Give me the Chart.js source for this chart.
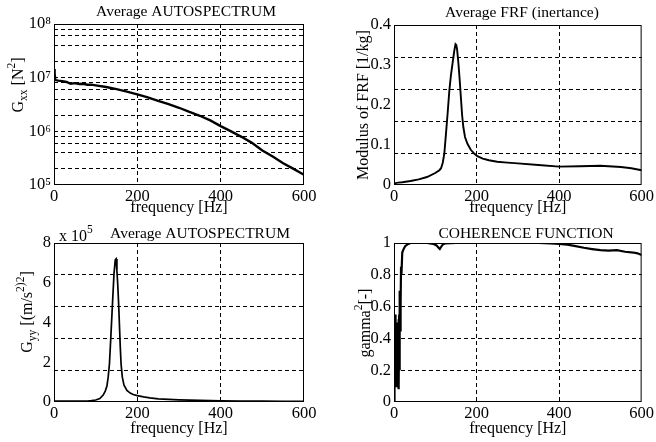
<!DOCTYPE html>
<html>
<head>
<meta charset="utf-8">
<script src="https://cdn.jsdelivr.net/npm/chart.js@4"></script>
<style>
  html, body { margin: 0; padding: 0; background: #fff; }
  #wrap { position: relative; width: 656px; height: 442px; overflow: hidden; }
  canvas { position: absolute; }
</style>
</head>
<body>
<div id="wrap">
  <canvas id="gxx" width="328" height="221" style="left:0;top:0"></canvas>
  <canvas id="frf" width="328" height="221" style="left:328px;top:0"></canvas>
  <canvas id="gyy" width="328" height="221" style="left:0;top:221px"></canvas>
  <canvas id="coh" width="328" height="221" style="left:328px;top:221px"></canvas>
</div>
<script>
// --- data ---
const freqTicks = [0, 200, 400, 600];
const freqGrid = [200, 400];

// input force autospectrum G_xx [N^2], log axis
const gxxFreq = [0, 1, 2, 3, 5, 10, 20, 30, 40, 50, 60, 70, 80, 90, 100, 125, 150, 175, 200, 225, 250, 275, 300, 325, 350, 375, 400, 425, 450, 475, 500, 525, 550, 575, 600];
const gxxVals = [1.45e7, 9.2e6, 1.2e7, 9.0e6, 9.0e6, 8.8e6, 8.6e6, 8.3e6, 7.7e6, 7.9e6, 7.6e6, 7.7e6, 7.4e6, 7.4e6, 7.2e6, 6.7e6, 6.1e6, 5.5e6, 4.9e6, 4.3e6, 3.7e6, 3.2e6, 2.75e6, 2.3e6, 1.95e6, 1.6e6, 1.25e6, 1.0e6, 7.9e5, 6.1e5, 4.4e5, 3.4e5, 2.55e5, 2.0e5, 1.55e5];
const gxxTickVals = [1e5, 1e6, 1e7, 1e8];
const gxxTickText = ['10\u2075', '10\u2076', '10\u2077', '10\u2078'];
const gxxGrid = [2e5, 4e5, 6e5, 8e5, 1e6, 2e6, 4e6, 6e6, 8e6, 1e7, 2e7, 4e7, 6e7, 8e7];

// FRF modulus (inertance) [1/kg]
const frfFreq = [0, 10, 20, 40, 60, 80, 100, 110, 114, 118, 122, 126, 130, 134, 138, 142, 146, 149, 151, 153, 156, 159, 162, 165, 168, 172, 178, 186, 195, 202, 215, 230, 250, 275, 300, 350, 400, 450, 500, 550, 575, 600];
const frfVals = [0.004, 0.006, 0.007, 0.01, 0.014, 0.02, 0.03, 0.037, 0.042, 0.055, 0.079, 0.129, 0.18, 0.235, 0.275, 0.305, 0.335, 0.352, 0.35, 0.338, 0.305, 0.265, 0.22, 0.175, 0.145, 0.12, 0.103, 0.088, 0.078, 0.072, 0.066, 0.062, 0.058, 0.056, 0.054, 0.05, 0.046, 0.047, 0.048, 0.045, 0.042, 0.037];
const frfTicks = [0, 0.1, 0.2, 0.3, 0.4];
const frfTickText = ['0', '0.1', '0.2', '0.3', '0.4'];
const frfGrid = [0.08, 0.16, 0.24, 0.32];

// response autospectrum G_yy, in units of 1e5
const gyyFreq = [0, 20, 40, 60, 80, 90, 100, 110, 118, 123, 127, 130, 133, 136, 140, 144, 147, 149, 151, 153, 155, 157, 159, 161, 164, 168, 175, 183, 190, 200, 215, 230, 250, 275, 300, 350, 400, 450, 500, 550, 600];
const gyyVals = [0.04, 0.04, 0.04, 0.05, 0.05, 0.07, 0.1, 0.17, 0.35, 0.55, 0.8, 1.25, 1.9, 3.1, 4.8, 6.45, 7.15, 7.2, 6.6, 5.9, 5.0, 3.9, 2.8, 1.9, 1.25, 0.85, 0.58, 0.45, 0.38, 0.32, 0.26, 0.21, 0.16, 0.13, 0.11, 0.08, 0.06, 0.05, 0.04, 0.03, 0.03];
const gyyTicks = [0, 2, 4, 6, 8];
const gyyTickText = ['0', '2', '4', '6', '8'];
const gyyGrid = [1.6, 3.2, 4.8, 6.4];

// coherence gamma^2
const cohFreq = [0, 0.5, 1, 1.5, 2, 2.5, 3, 3.5, 4, 4.5, 5, 5.5, 6, 6.5, 7, 7.5, 8, 8.5, 9, 9.5, 10, 10.5, 11, 11.5, 12, 12.5, 13, 13.5, 14, 14.5, 15, 16, 17, 18, 20, 23, 27, 32, 40, 60, 80, 95, 103, 108, 111, 114, 118, 125, 150, 200, 250, 300, 350, 380, 400, 420, 440, 460, 480, 500, 520, 540, 560, 580, 590, 600];
const cohVals = [0.0, 0.45, 0.1, 0.52, 0.15, 0.5, 0.12, 0.55, 0.2, 0.48, 0.1, 0.5, 0.15, 0.45, 0.12, 0.42, 0.18, 0.5, 0.1, 0.48, 0.12, 0.45, 0.1, 0.52, 0.08, 0.55, 0.2, 0.62, 0.3, 0.7, 0.45, 0.6, 0.85, 0.8, 0.94, 0.96, 0.98, 0.99, 1.0, 1.0, 1.0, 0.995, 0.985, 0.97, 0.962, 0.975, 0.99, 0.998, 1.0, 1.0, 1.0, 1.0, 1.0, 0.998, 0.995, 0.99, 0.98, 0.97, 0.962, 0.955, 0.952, 0.955, 0.945, 0.94, 0.935, 0.925];
const cohTicks = [0, 0.2, 0.4, 0.6, 0.8, 1];
const cohTickText = ['0', '0.2', '0.4', '0.6', '0.8', '1'];
const cohGrid = [0.2, 0.4, 0.6, 0.8];

const SERIF = "'Liberation Serif', 'DejaVu Serif', serif";
const tickFont = { family: SERIF, size: 16.5 };
const near = (a, b) => b != null && Math.abs(a - b) <= 1e-9 * Math.max(1, Math.abs(a));

function fontFor(seg, size) {
  const s = seg.sub || seg.sup ? size * 0.72 : size;
  return s + 'px ' + SERIF;
}

// text with sub/superscripts, centred on (x, y) unless left is set
function drawRich(ctx, segs, x, y, size, rot, left) {
  ctx.save();
  ctx.translate(x, y);
  if (rot) ctx.rotate(rot);
  ctx.fillStyle = '#000';
  ctx.textBaseline = 'alphabetic';
  ctx.textAlign = 'left';
  let w = 0;
  segs.forEach(s => { ctx.font = fontFor(s, size); w += ctx.measureText(s.t).width; });
  let cx = left ? 0 : -w / 2;
  segs.forEach(s => {
    ctx.font = fontFor(s, size);
    const dy = s.sub ? size * 0.3 : s.sup ? -size * 0.45 : 0;
    ctx.fillText(s.t, cx, size * 0.35 + dy);
    cx += ctx.measureText(s.t).width;
  });
  ctx.restore();
}

function makeDecor(spec) {
  return {
    id: 'decor',
    afterDraw(chart) {
      const { ctx, chartArea: a } = chart;
      ctx.save();
      ctx.strokeStyle = '#000';
      ctx.lineWidth = 1;
      ctx.strokeRect(a.left + 0.5, a.top + 0.5, a.right - a.left - 1, a.bottom - a.top - 1);
      ctx.fillStyle = '#000';
      ctx.font = '15.5px ' + SERIF;
      ctx.textAlign = 'center';
      ctx.textBaseline = 'middle';
      ctx.fillText(spec.title, spec.titleX, spec.titleY);
      ctx.restore();
      drawRich(ctx, spec.ylabel, spec.ylabelX, spec.ylabelY, 16, -Math.PI / 2);
      if (spec.exp) drawRich(ctx, spec.exp, spec.expX, spec.expY, 16, 0, true);
    }
  };
}

function yScale(type, min, max, tickVals, tickText, gridVals, width) {
  const all = [...new Set([...tickVals, ...gridVals])].sort((a, b) => a - b);
  return {
    type, min, max,
    afterBuildTicks: s => { s.ticks = all.map(v => ({ value: v })); },
    afterFit: s => { s.width = width; },
    ticks: {
      autoSkip: false, padding: 3, color: '#000', font: tickFont,
      callback: v => {
        const i = tickVals.findIndex(t => near(t, v));
        return i >= 0 ? tickText[i] : '';
      }
    },
    grid: {
      drawTicks: false, lineWidth: 1,
      color: c => gridVals.some(g => near(g, c.tick && c.tick.value)) ? '#000' : 'rgba(0,0,0,0)'
    },
    border: { display: false, dash: [4, 3] }
  };
}

function xScale(height, padBottom) {
  return {
    type: 'linear', min: 0, max: 600,
    afterBuildTicks: s => { s.ticks = freqTicks.map(v => ({ value: v })); },
    afterFit: s => { s.height = height; },
    ticks: { autoSkip: false, maxRotation: 0, padding: 2, color: '#000', font: tickFont, callback: v => String(v) },
    grid: {
      drawTicks: false, lineWidth: 1,
      color: c => freqGrid.some(g => near(g, c.tick && c.tick.value)) ? '#000' : 'rgba(0,0,0,0)'
    },
    border: { display: false, dash: [4, 3] },
    title: { display: true, text: 'frequency [Hz]', color: '#000', font: { family: SERIF, size: 16 }, padding: { top: 0, bottom: padBottom } }
  };
}

function makeChart(id, freq, vals, lw, pad, y, x, spec) {
  return new Chart(document.getElementById(id), {
    type: 'line',
    data: {
      datasets: [{
        data: freq.map((f, i) => ({ x: f, y: vals[i] })),
        borderColor: '#000', borderWidth: lw, pointRadius: 0, tension: 0, fill: false
      }]
    },
    options: {
      responsive: false, animation: false, events: [],
      layout: { padding: pad },
      plugins: { legend: { display: false }, tooltip: { enabled: false } },
      scales: { x, y }
    },
    plugins: [makeDecor(spec)]
  });
}

makeChart('gxx', gxxFreq, gxxVals, 2.4,
  { left: 0, top: 24, right: 24, bottom: 0 },
  yScale('logarithmic', 1e5, 1e8, gxxTickVals, gxxTickText, gxxGrid, 54),
  xScale(36, 4),
  { title: 'Average AUTOSPECTRUM', titleX: 186, titleY: 12, ylabelX: 17, ylabelY: 85,
    ylabel: [{ t: 'G' }, { t: 'xx', sub: true }, { t: ' [N' }, { t: '2', sup: true }, { t: ']' }] });

makeChart('frf', frfFreq, frfVals, 1.9,
  { left: 0, top: 25, right: 13, bottom: 0 },
  yScale('linear', 0, 0.4, frfTicks, frfTickText, frfGrid, 66),
  xScale(36, 4),
  { title: 'Average FRF (inertance)', titleX: 194, titleY: 13, ylabelX: 34, ylabelY: 105,
    ylabel: [{ t: 'Modulus of FRF [1/kg]' }] });

makeChart('gyy', gyyFreq, gyyVals, 1.7,
  { left: 0, top: 22, right: 24, bottom: 0 },
  yScale('linear', 0, 8, gyyTicks, gyyTickText, gyyGrid, 54),
  xScale(40, 4),
  { title: 'Average AUTOSPECTRUM', titleX: 200, titleY: 13, ylabelX: 26, ylabelY: 91,
    ylabel: [{ t: 'G' }, { t: 'yy', sub: true }, { t: ' [(m/s' }, { t: '2)2', sup: true }, { t: ']' }],
    exp: [{ t: 'x 10' }, { t: '5', sup: true }], expX: 59, expY: 14 });

makeChart('coh', cohFreq, cohVals, 2.2,
  { left: 0, top: 22, right: 13, bottom: 0 },
  yScale('linear', 0, 1, cohTicks, cohTickText, cohGrid, 66),
  xScale(40, 4),
  { title: 'COHERENCE FUNCTION', titleX: 198, titleY: 13, ylabelX: 36, ylabelY: 102,
    ylabel: [{ t: 'gamma' }, { t: '2', sup: true }, { t: '[-]' }] });
</script>
</body>
</html>
